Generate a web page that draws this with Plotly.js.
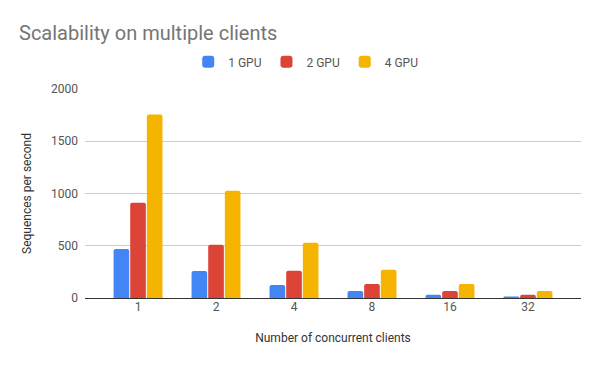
<!DOCTYPE html>
<html>
<head>
<meta charset="utf-8">
<script src="https://cdn.plot.ly/plotly-3.0.1.min.js"></script>
<style>html,body{margin:0;padding:0;background:#fff;}#chart{width:600px;height:371px;}</style>
</head>
<body>
<div id="chart"></div>
<script>
const categories = ["1", "2", "4", "8", "16", "32"];
const seriesNames = ["1 GPU", "2 GPU", "4 GPU"];
const gpu1 = [470, 259, 125, 67, 30, 14];
const gpu2 = [912, 509, 260, 135, 67, 30];
const gpu4 = [1757, 1027, 528, 270, 135, 67];
const colors = ["#4285F4", "#DB4437", "#F4B400"];
const yTicks = [0, 500, 1000, 1500, 2000];

const values = [gpu1, gpu2, gpu4];
const traces = values.map((v, i) => ({
  type: "bar",
  name: seriesNames[i],
  x: categories,
  y: v,
  marker: {color: colors[i], cornerradius: 2},
  hoverinfo: "none"
}));

const layout = {
  width: 600, height: 371,
  margin: {l: 85, r: 19, t: 89, b: 73},
  font: {family: "Roboto, Arial, sans-serif", size: 12, color: "#444"},
  paper_bgcolor: "#fff", plot_bgcolor: "#fff",
  title: {text: "Scalability on multiple clients", font: {size: 20, color: "#757575"},
          xref: "container", yref: "container", x: 19/600, xanchor: "left", y: 1 - 33/371, yanchor: "middle"},
  barmode: "group", bargap: 0.36, bargroupgap: 0.06,
  showlegend: true,
  legend: {orientation: "h", x: 0.445, xanchor: "center", y: 1.13, yanchor: "middle",
           font: {size: 12, color: "#555"}, itemwidth: 30, traceorder: "normal"},
  xaxis: {type: "category", range: [-0.68, 5.68], showgrid: false, ticks: "", showline: false, zeroline: false,
          tickfont: {size: 12, color: "#555"},
          title: {text: "Number of concurrent clients", font: {size: 12, color: "#333"}, standoff: 20}},
  yaxis: {range: [0, 2000], tickvals: yTicks, ticktext: yTicks.map(String), gridcolor: "#cccccc",
          zeroline: true, zerolinecolor: "#333", zerolinewidth: 1, showline: false,
          tickfont: {size: 12, color: "#555"}, ticklabelstandoff: 6,
          title: {text: "Sequences per second", font: {size: 12, color: "#333"}, standoff: 16}}
};

Plotly.newPlot("chart", traces, layout, {displayModeBar: false, staticPlot: true});
</script>
</body>
</html>
